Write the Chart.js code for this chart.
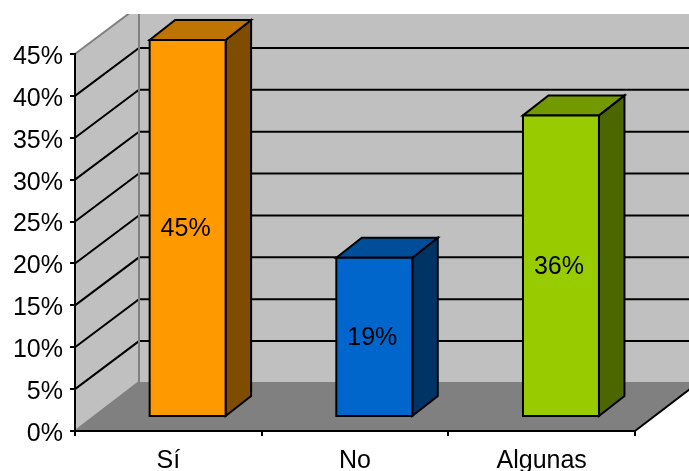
<!DOCTYPE html>
<html>
<head>
<meta charset="utf-8">
<style>
  html, body { margin: 0; padding: 0; background: #fff; overflow: hidden; }
  canvas { display: block; }
</style>
<script src="https://cdn.jsdelivr.net/npm/chart.js@4"></script>
</head>
<body>
<canvas id="chart" width="689" height="471"></canvas>
<script>
// Survey answers, in percent
const categories = ['Sí', 'No', 'Algunas'];
const seriesValues = [45, 19, 36];
const frontColors = ['#FF9900', '#0066CC', '#99CC00'];
const topColors = ['#BF7300', '#004D99', '#739900'];
const sideColors = ['#7F4D00', '#003366', '#4C6600'];

const fontFamily = '"Liberation Sans", Arial, sans-serif';
const fontSize = 25;

// Oblique projection of the box: offsets of the back wall and of the bars
const wallDepth = { x: 64, y: -48 };
const floorRise = -49;
const barShift = { x: 19.3, y: -14 };
const barDepth = { x: 25.5, y: -20 };
const outlineWidth = 2;
const visibleTop = 14;

function polygon(ctx, pts, fill, stroke, width) {
  ctx.beginPath();
  pts.forEach((p, i) => i ? ctx.lineTo(p[0], p[1]) : ctx.moveTo(p[0], p[1]));
  ctx.closePath();
  if (fill) { ctx.fillStyle = fill; ctx.fill(); }
  if (stroke) { ctx.strokeStyle = stroke; ctx.lineWidth = width; ctx.lineJoin = 'miter'; ctx.stroke(); }
}

function barEdges(bar) {
  return {
    l: bar.x - bar.width / 2 + barShift.x,
    r: bar.x + bar.width / 2 + barShift.x,
    t: bar.y + barShift.y,
    b: bar.base + barShift.y
  };
}

// Walls, floor and gridlines of the box, behind the axes
const boxPlugin = {
  id: 'box',
  beforeDraw(chart) {
    const { ctx, chartArea: a, scales: { y } } = chart;
    const dx = wallDepth.x, dy = wallDepth.y;
    const bottom = y.getPixelForValue(0), top = y.getPixelForValue(45);
    ctx.save();
    ctx.beginPath();
    ctx.rect(0, visibleTop, chart.width, chart.height - visibleTop);
    ctx.clip();
    // back wall
    polygon(ctx, [[a.left + dx, top + dy], [a.right + dx, top + dy], [a.right + dx, bottom + dy], [a.left + dx, bottom + dy]], '#C0C0C0');
    // left wall
    polygon(ctx, [[a.left, top], [a.left + dx, top + dy], [a.left + dx, bottom + dy], [a.left, bottom]], '#C0C0C0');
    // floor
    polygon(ctx, [[a.left, bottom], [a.left + dx, bottom + floorRise], [a.right + dx, bottom + floorRise], [a.right, bottom]], '#808080');
    // gridlines run across the left wall and the back wall
    ctx.strokeStyle = '#000';
    ctx.lineWidth = 2;
    y.ticks.forEach(t => {
      if (t.value === 0 || t.value === 45) return;
      const py = y.getPixelForValue(t.value);
      ctx.beginPath();
      ctx.moveTo(a.left, py);
      ctx.lineTo(a.left + dx, py + dy);
      ctx.lineTo(a.right + dx, py + dy);
      ctx.stroke();
    });
    // wall edges
    ctx.strokeStyle = '#808080';
    ctx.lineWidth = 2;
    ctx.beginPath();
    ctx.moveTo(a.left, top);
    ctx.lineTo(a.left + dx, top + dy);
    ctx.moveTo(a.left + dx, top + dy);
    ctx.lineTo(a.left + dx, bottom + floorRise);
    ctx.lineTo(a.left, bottom);
    ctx.stroke();
    // right edge of the floor
    ctx.strokeStyle = '#000';
    ctx.beginPath();
    ctx.moveTo(a.right, bottom);
    ctx.lineTo(a.right + dx, bottom + floorRise);
    ctx.stroke();
    ctx.restore();
  },
  // Top and side faces of each bar, offset from the front face
  beforeDatasetDraw(chart) {
    const { ctx } = chart;
    const dx = barDepth.x, dy = barDepth.y;
    chart.getDatasetMeta(0).data.forEach((bar, i) => {
      const { l, r, t, b } = barEdges(bar);
      polygon(ctx, [[r, t], [r + dx, t + dy], [r + dx, b + dy], [r, b]], sideColors[i], '#000', outlineWidth);
      polygon(ctx, [[l, t], [l + dx, t + dy], [r + dx, t + dy], [r, t]], topColors[i], '#000', outlineWidth);
    });
    // the front faces sit part way across the floor
    ctx.save();
    ctx.translate(barShift.x, barShift.y);
  },
  // Outline and percentage label of each front face
  afterDatasetDraw(chart) {
    const { ctx } = chart;
    ctx.restore();
    ctx.save();
    ctx.font = fontSize + 'px ' + fontFamily;
    ctx.textAlign = 'center';
    ctx.textBaseline = 'middle';
    chart.getDatasetMeta(0).data.forEach((bar, i) => {
      const { l, r, t, b } = barEdges(bar);
      polygon(ctx, [[l, t], [r, t], [r, b], [l, b]], null, '#000', outlineWidth);
      ctx.fillStyle = '#000';
      ctx.fillText(seriesValues[i] + '%', (l + r) / 2 - 2, (t + b) / 2 + 1);
    });
    ctx.restore();
  }
};

new Chart(document.getElementById('chart'), {
  type: 'bar',
  data: {
    labels: categories,
    datasets: [{
      data: seriesValues,
      backgroundColor: frontColors,
      borderWidth: 0,
      barPercentage: 0.407,
      categoryPercentage: 1,
      clip: false
    }]
  },
  plugins: [boxPlugin],
  options: {
    responsive: false,
    animation: false,
    devicePixelRatio: 1,
    layout: { padding: { top: 54, right: 54, left: 0, bottom: 0 } },
    plugins: { legend: { display: false }, tooltip: { enabled: false }, title: { display: false } },
    scales: {
      x: {
        afterFit(s) { s.height = 40; },
        grid: { drawOnChartArea: false, drawTicks: true, tickLength: 5, color: '#000', lineWidth: 2 },
        border: { color: '#000', width: 2 },
        ticks: { color: '#000', padding: 10, maxRotation: 0, font: { family: fontFamily, size: fontSize } }
      },
      y: {
        min: 0,
        max: 45,
        afterFit(s) { s.width = 75; },
        grid: { drawOnChartArea: false, drawTicks: true, tickLength: 5, color: '#000', lineWidth: 2 },
        border: { color: '#000', width: 2 },
        ticks: {
          stepSize: 5,
          color: '#000',
          padding: 7,
          labelOffset: 3,
          font: { family: fontFamily, size: fontSize },
          callback: v => v + '%'
        }
      }
    }
  }
});
</script>
</body>
</html>
